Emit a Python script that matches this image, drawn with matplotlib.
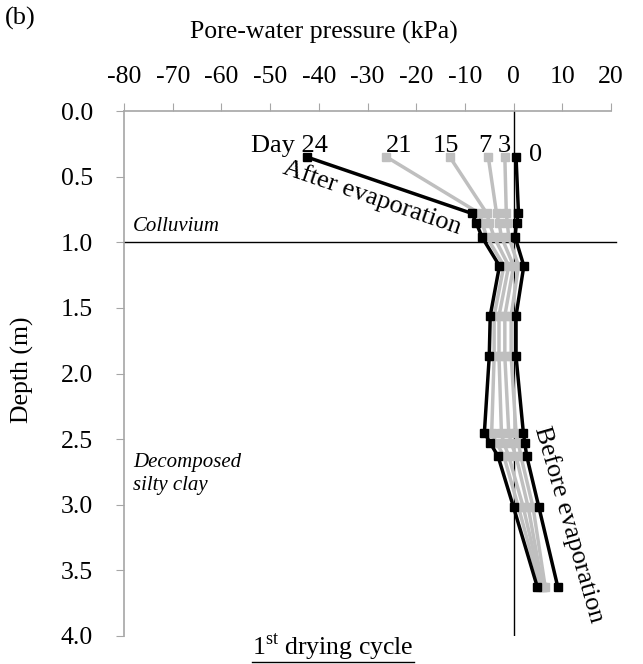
import matplotlib
matplotlib.use("Agg")
import matplotlib.pyplot as plt
from matplotlib.lines import Line2D

plt.rcParams['font.family'] = ['Liberation Serif', 'DejaVu Serif']
plt.rcParams['mathtext.fontset'] = 'custom'
plt.rcParams['mathtext.rm'] = 'Liberation Serif'

depth = [0.35, 0.78, 0.85, 0.96, 1.18, 1.56, 1.87, 2.45, 2.53, 2.63, 3.02, 3.63]
day0 = [0.5, 1.0, 0.6, 0.3, 2.1, 0.5, 0.5, 2.0, 2.3, 2.7, 5.2, 9.1]
day3 = [-1.8, -1.5, -1.3, -1.0, 1.0, -0.5, -0.5, 0.5, 1.0, 1.5, 4.0, 6.5]
day7 = [-5.2, -3.5, -3.0, -2.5, 0.0, -1.8, -1.8, -1.0, -0.5, 0.5, 3.0, 6.0]
day15 = [-13.1, -5.5, -5.0, -4.0, -1.0, -3.0, -3.0, -2.5, -2.0, -1.0, 2.0, 5.8]
day21 = [-26.1, -7.0, -6.5, -5.5, -2.0, -4.0, -4.0, -4.5, -3.5, -2.0, 1.0, 5.5]
day24 = [-42.5, -8.6, -7.7, -6.5, -2.9, -4.8, -5.0, -6.0, -4.8, -3.2, 0.0, 4.9]

grey_series = [day3, day7, day15, day21]
black_series = [day24, day0]

xticks = [-80, -70, -60, -50, -40, -30, -20, -10, 0, 10, 20]
yticks = [0.0, 0.5, 1.0, 1.5, 2.0, 2.5, 3.0, 3.5, 4.0]

fig = plt.figure(figsize=(6.43, 6.64), dpi=100)
ax = fig.add_axes([124/643, 1-636/664, (611-124)/643, (636-111)/664])

grey = '#BFBFBF'
for s in grey_series:
    ax.plot(s, depth, color=grey, lw=2.5, marker='s', ms=6, mfc=grey, mec=grey, zorder=3)
for s in black_series:
    ax.plot(s, depth, color='black', lw=2.5, marker='s', ms=6, mfc='black', mec='black', zorder=4)

ax.set_xlim(-80, 20)
ax.set_ylim(4.0, 0.0)
ax.xaxis.tick_top()
ax.set_xticks(xticks)
ax.set_xticklabels([str(v) for v in xticks])
ax.set_yticks(yticks)
ax.set_yticklabels([f"{v:.1f}" for v in yticks])
ax.tick_params(axis='x', direction='out', length=5.8, pad=10.8, labelsize=18.5, color='#A6A6A6')
ax.tick_params(axis='y', direction='out', length=5.8, pad=16.5, labelsize=18.5, color='#A6A6A6')
for sp in ['right', 'bottom']:
    ax.spines[sp].set_visible(False)
for sp in ['left', 'top']:
    ax.spines[sp].set_color('#A6A6A6')
    ax.spines[sp].set_linewidth(1.2)

# zero line and layer boundary
ax.axvline(0, color='black', lw=1, zorder=2)
ax.plot([-80, 21], [1.0, 1.0], color='black', lw=1, clip_on=False, zorder=2)

ax.text(-78.2, 0.915, 'Colluvium', style='italic', fontsize=15, ha='left', va='baseline')
ax.text(-78.2, 2.71, 'Decomposed', style='italic', fontsize=15, ha='left', va='baseline')
ax.text(-78.2, 2.89, 'silty clay', style='italic', fontsize=15, ha='left', va='baseline')

# day labels
ax.text(-46.0, 0.31, 'Day 24', fontsize=19, ha='center', va='baseline')
ax.text(-23.5, 0.31, '21', fontsize=19, ha='center', va='baseline')
ax.text(-13.9, 0.31, '15', fontsize=19, ha='center', va='baseline')
ax.text(-5.8, 0.31, '7', fontsize=19, ha='center', va='baseline')
ax.text(-1.9, 0.31, '3', fontsize=19, ha='center', va='baseline')
ax.text(4.5, 0.38, '0', fontsize=19, ha='center', va='baseline')

ax.text(-29.0, 0.66, 'After evaporation', fontsize=19, rotation=-19, ha='center', va='center',
        rotation_mode='anchor')
ax.text(11.3, 3.15, 'Before evaporation', fontsize=19, rotation=-74, ha='center', va='center',
        rotation_mode='anchor')

fig.text(5/643, 1-18/664, '(b)', fontsize=19, ha='left', va='center')
fig.text(324/643, 1-32/664, 'Pore-water pressure (kPa)', fontsize=18.5, ha='center', va='center')
fig.text(22/643, 1-370/664, 'Depth (m)', fontsize=18.5, ha='center', va='center', rotation=90)

t = fig.text(333/643, 1-647/664, r'1$^{\mathrm{st}}$ drying cycle', fontsize=18.5, ha='center', va='center')
fig.canvas.draw()
bb = t.get_window_extent(fig.canvas.get_renderer())
ul_y = (bb.y0 + 1) / fig.bbox.height
fig.add_artist(Line2D([bb.x0 / fig.bbox.width, bb.x1 / fig.bbox.width], [ul_y, ul_y],
                      transform=fig.transFigure, color='black', lw=1))

fig.savefig('out.png', dpi=100)
